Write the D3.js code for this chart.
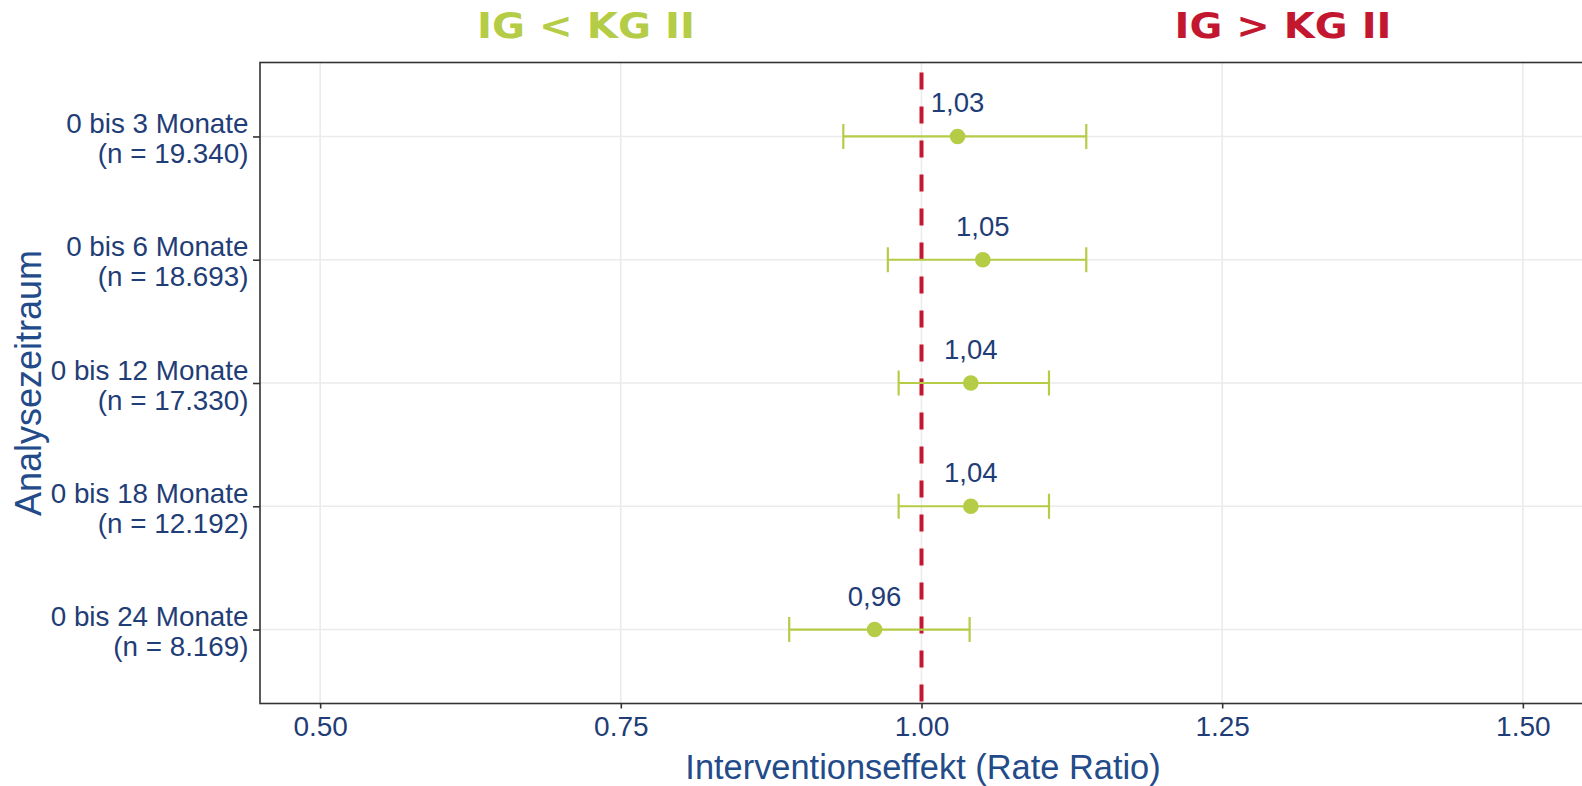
<!DOCTYPE html>
<html>
<head>
<meta charset="utf-8">
<script src="https://cdn.jsdelivr.net/npm/d3@7"></script>
<style>
  html, body { margin: 0; padding: 0; background: #ffffff; }
  svg { display: block; }
</style>
</head>
<body>
<svg id="chart" width="1582" height="786"></svg>
<script>
// ---- data ----
const categories = ["0 bis 3 Monate", "0 bis 6 Monate", "0 bis 12 Monate", "0 bis 18 Monate", "0 bis 24 Monate"];
const sampleSizes = ["(n = 19.340)", "(n = 18.693)", "(n = 17.330)", "(n = 12.192)", "(n = 8.169)"];
const estimates = [1.030, 1.051, 1.041, 1.041, 0.961];
const lowerCI = [0.935, 0.972, 0.981, 0.981, 0.890];
const upperCI = [1.137, 1.137, 1.106, 1.106, 1.040];
const valueLabels = ["1,03", "1,05", "1,04", "1,04", "0,96"];
const xTicks = [0.50, 0.75, 1.00, 1.25, 1.50];
const xTickLabels = ["0.50", "0.75", "1.00", "1.25", "1.50"];
const referenceValue = 1.0;
const headerLeft = "IG < KG II";
const headerRight = "IG > KG II";

// ---- layout ----
const panel = { left: 260, top: 62.5, right: 1583, bottom: 703.5 };
const green = "#b5cc47";
const red = "#c3162f";
const textBlue = "#1f3d76";
const titleBlue = "#234b8a";
const font = "'Liberation Sans', Arial, sans-serif";

const svg = d3.select("#chart");

const x = d3.scaleLinear().domain([0.45, 1.55]).range([panel.left, panel.right]);
const y = d3.scalePoint().domain(categories).range([panel.top, panel.bottom]).padding(0.6);

svg.append("clipPath").attr("id", "pclip")
  .append("rect")
  .attr("x", panel.left).attr("y", panel.top)
  .attr("width", panel.right - panel.left).attr("height", panel.bottom - panel.top);

const g = svg.append("g").attr("clip-path", "url(#pclip)");

// grid lines
g.selectAll(".vgrid").data(xTicks).enter().append("line")
  .attr("x1", d => x(d)).attr("x2", d => x(d))
  .attr("y1", panel.top).attr("y2", panel.bottom)
  .attr("stroke", "#ebebeb").attr("stroke-width", 1.6);
g.selectAll(".hgrid").data(categories).enter().append("line")
  .attr("x1", panel.left).attr("x2", panel.right)
  .attr("y1", d => y(d)).attr("y2", d => y(d))
  .attr("stroke", "#ebebeb").attr("stroke-width", 1.6);

// reference line
g.append("line")
  .attr("x1", x(referenceValue)).attr("x2", x(referenceValue))
  .attr("y1", panel.top).attr("y2", panel.bottom)
  .attr("stroke", red).attr("stroke-width", 4)
  .attr("stroke-dasharray", "17 17").attr("stroke-dashoffset", 24);

// error bars
const rows = categories.map((c, i) => ({ c, est: estimates[i], lo: lowerCI[i], hi: upperCI[i], lab: valueLabels[i] }));
const capH = 12.5;
const eb = g.selectAll(".eb").data(rows).enter().append("g");
eb.append("line")
  .attr("x1", d => x(d.lo)).attr("x2", d => x(d.hi))
  .attr("y1", d => y(d.c)).attr("y2", d => y(d.c))
  .attr("stroke", green).attr("stroke-width", 2.2);
eb.append("line")
  .attr("x1", d => x(d.lo)).attr("x2", d => x(d.lo))
  .attr("y1", d => y(d.c) - capH).attr("y2", d => y(d.c) + capH)
  .attr("stroke", green).attr("stroke-width", 2.2);
eb.append("line")
  .attr("x1", d => x(d.hi)).attr("x2", d => x(d.hi))
  .attr("y1", d => y(d.c) - capH).attr("y2", d => y(d.c) + capH)
  .attr("stroke", green).attr("stroke-width", 2.2);
eb.append("circle")
  .attr("cx", d => x(d.est)).attr("cy", d => y(d.c)).attr("r", 7.8)
  .attr("fill", green);
eb.append("text")
  .attr("x", d => x(d.est)).attr("y", d => y(d.c) - 24)
  .attr("text-anchor", "middle")
  .attr("font-family", font).attr("font-size", 27.5)
  .attr("fill", textBlue)
  .text(d => d.lab);

// panel border
svg.append("rect")
  .attr("x", panel.left).attr("y", panel.top)
  .attr("width", panel.right - panel.left).attr("height", panel.bottom - panel.top)
  .attr("fill", "none").attr("stroke", "#333333").attr("stroke-width", 1.6);

// x axis
const xAxis = svg.append("g").attr("transform", `translate(0,${panel.bottom})`)
  .call(d3.axisBottom(x).tickValues(xTicks).tickFormat((d, i) => xTickLabels[i]).tickSize(5).tickPadding(8));
xAxis.select(".domain").remove();
xAxis.selectAll(".tick line").attr("stroke", "#333333").attr("stroke-width", 1.6);
xAxis.selectAll(".tick text")
  .attr("font-family", font).attr("font-size", 28).attr("fill", textBlue)
  .attr("dy", "0.71em");

// y axis (ticks only, labels custom two-line)
const yAxis = svg.append("g").attr("transform", `translate(${panel.left},0)`)
  .call(d3.axisLeft(y).tickSize(7).tickFormat(""));
yAxis.select(".domain").remove();
yAxis.selectAll(".tick line").attr("stroke", "#333333").attr("stroke-width", 1.6);

const ylab = svg.append("g").selectAll(".ylab").data(categories).enter().append("text")
  .attr("text-anchor", "end")
  .attr("font-family", font).attr("font-size", 27.8).attr("fill", textBlue);
ylab.append("tspan").attr("x", 248.5).attr("y", d => y(d) - 3.5).text(d => d);
ylab.append("tspan").attr("x", 248.5).attr("y", (d, i) => y(d) + 26.5).text((d, i) => sampleSizes[i]);

// axis titles
svg.append("text")
  .attr("x", 923)
  .attr("y", 779)
  .attr("text-anchor", "middle")
  .attr("font-family", font).attr("font-size", 34.4).attr("fill", titleBlue)
  .text("Interventionseffekt (Rate Ratio)");

svg.append("text")
  .attr("transform", `translate(41,${(panel.top + panel.bottom) / 2}) rotate(-90)`)
  .attr("text-anchor", "middle")
  .attr("font-family", font).attr("font-size", 36).attr("fill", titleBlue)
  .text("Analysezeitraum");

// header labels
svg.append("text")
  .attr("x", 586).attr("y", 38)
  .attr("text-anchor", "middle")
  .attr("font-family", "'DejaVu Sans', Verdana, sans-serif").attr("font-weight", "bold")
  .attr("font-size", 36).attr("fill", green)
  .attr("textLength", 218).attr("lengthAdjust", "spacingAndGlyphs")
  .text(headerLeft);
svg.append("text")
  .attr("x", 1283).attr("y", 38)
  .attr("text-anchor", "middle")
  .attr("font-family", "'DejaVu Sans', Verdana, sans-serif").attr("font-weight", "bold")
  .attr("font-size", 36).attr("fill", red)
  .attr("textLength", 217).attr("lengthAdjust", "spacingAndGlyphs")
  .text(headerRight);
</script>
</body>
</html>
